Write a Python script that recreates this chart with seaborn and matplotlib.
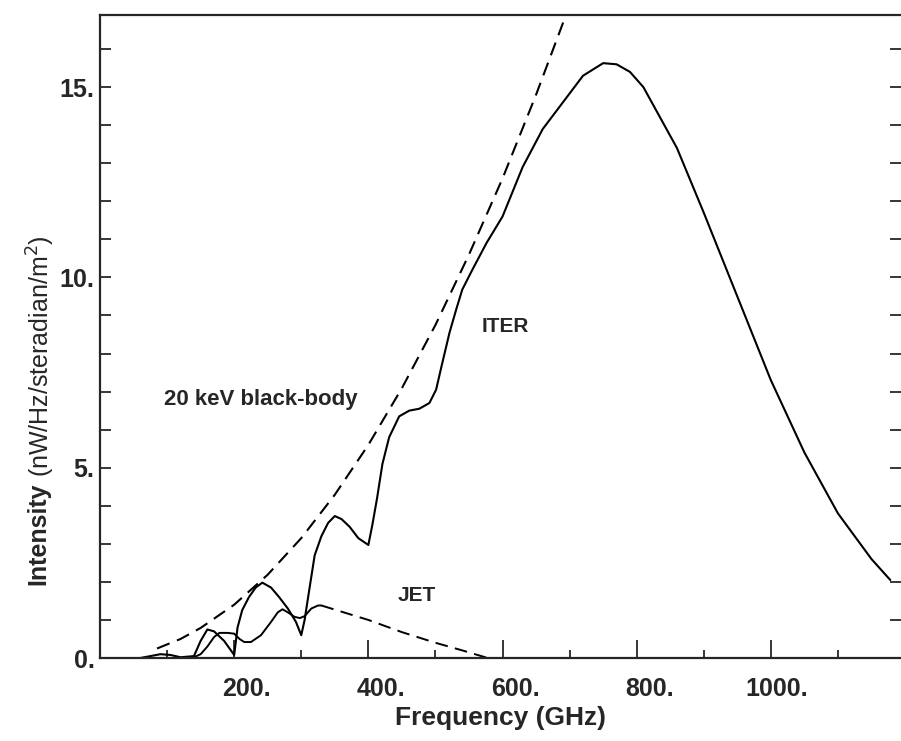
import matplotlib
matplotlib.use('Agg')
import matplotlib.pyplot as plt
from matplotlib.ticker import MultipleLocator, FixedLocator
from matplotlib.transforms import ScaledTranslation
import seaborn as sns
import pandas as pd

##### data (GHz, nW/Hz/steradian/m^2)

bb_freq = [85, 120, 150, 200, 250, 300, 350, 400, 450, 500, 550, 600, 650, 700, 710]
bb_int = [0.25, 0.5, 0.79, 1.4, 2.19, 3.15, 4.29, 5.6, 7.09, 8.75, 10.6, 12.6, 14.8, 17.15, 17.6]

iter_freq = [60, 75, 90, 105, 120, 140, 150, 160, 170, 185, 200, 205, 212, 222, 232, 242, 255, 267,
             280, 292, 300, 305, 312, 320, 330, 340, 350, 360, 372, 385, 400, 406, 413, 421, 431, 446,
             461, 476, 491, 501, 509, 521, 531, 540, 555, 576, 600, 630, 660, 690, 720, 750, 770, 790,
             810, 835, 860, 900, 950, 1000, 1050, 1100, 1150, 1178]
iter_int = [0.0, 0.05, 0.1, 0.08, 0.02, 0.05, 0.45, 0.75, 0.7, 0.45, 0.08, 0.8, 1.26, 1.6, 1.85, 1.98,
            1.85, 1.6, 1.3, 0.95, 0.6, 1.0, 1.8, 2.7, 3.2, 3.55, 3.73, 3.65, 3.45, 3.15, 2.97, 3.5, 4.2,
            5.1, 5.8, 6.35, 6.5, 6.55, 6.7, 7.05, 7.66, 8.55, 9.16, 9.68, 10.2, 10.9, 11.6, 12.9, 13.9,
            14.6, 15.3, 15.63, 15.6, 15.4, 15.0, 14.2, 13.4, 11.7, 9.5, 7.3, 5.4, 3.8, 2.6, 2.05]

jet_freq = [140, 150, 160, 170, 178, 190, 200, 208, 215, 225, 240, 255, 265, 272, 280, 290, 298, 305,
            315, 325, 330]
jet_int = [0.02, 0.1, 0.3, 0.55, 0.66, 0.66, 0.64, 0.5, 0.42, 0.42, 0.6, 0.95, 1.2, 1.28, 1.2, 1.08,
           1.05, 1.1, 1.3, 1.38, 1.38]

jet_tail_freq = [330, 400, 450, 500, 540, 578]
jet_tail_int = [1.38, 1.0, 0.68, 0.4, 0.2, 0.0]

x_ticks = [200, 400, 600, 800, 1000]
x_ticklabels = ['200.', '400.', '600.', '800.', '1000.']
y_ticks = [0, 5, 10, 15]
y_ticklabels = ['0.', '5.', '10.', '15.']

sns.set_style('ticks')
plt.rcParams['font.family'] = ['Liberation Sans', 'DejaVu Sans']

fig = plt.figure(figsize=(9.01, 7.41), dpi=100)
ax = fig.add_axes([0.111, 0.112, 0.889, 0.868])

bb = pd.DataFrame({'f': bb_freq, 'I': bb_int})
it = pd.DataFrame({'f': iter_freq, 'I': iter_int})
jt = pd.DataFrame({'f': jet_freq, 'I': jet_int})
jt2 = pd.DataFrame({'f': jet_tail_freq, 'I': jet_tail_int})

dash = (0, (6.5, 3.8))
sns.lineplot(data=bb, x='f', y='I', ax=ax, color='black', lw=1.5, sort=False, estimator=None,
             linestyle=dash)
sns.lineplot(data=it, x='f', y='I', ax=ax, color='black', lw=1.5, sort=False, estimator=None)
sns.lineplot(data=jt, x='f', y='I', ax=ax, color='black', lw=1.4, sort=False, estimator=None)
sns.lineplot(data=jt2, x='f', y='I', ax=ax, color='black', lw=1.4, sort=False, estimator=None,
             linestyle=dash)

ax.set_xlim(0, 1194)
ax.set_ylim(0, 16.9)

ax.xaxis.set_major_locator(FixedLocator(x_ticks))
ax.xaxis.set_minor_locator(MultipleLocator(100))
ax.set_xticklabels(x_ticklabels, fontsize=18, fontweight='bold')
ax.yaxis.set_major_locator(FixedLocator(y_ticks))
ax.yaxis.set_minor_locator(MultipleLocator(1))
ax.set_yticklabels(y_ticklabels, fontsize=18, fontweight='bold')

ax.tick_params(axis='x', which='major', direction='in', length=13, width=1.3, pad=14)
ax.tick_params(axis='x', which='minor', direction='in', length=6, width=1.3)
ax.tick_params(axis='y', which='both', direction='in', length=8, width=1.3, right=True, pad=4)

# labels sit right-justified, like a fixed-width number field
shift = ScaledTranslation(0.37, 0, fig.dpi_scale_trans)
for lab in ax.get_xticklabels():
    lab.set_horizontalalignment('right')
    lab.set_transform(lab.get_transform() + shift)

for s in ['left', 'bottom', 'top']:
    ax.spines[s].set_linewidth(1.6)
ax.spines['right'].set_visible(False)

ax.set_xlabel('Frequency (GHz)', fontsize=19, fontweight='bold', labelpad=3)
ax.set_ylabel('')
fig.text(0.043, 1 - 585 / 741, 'Intensity', rotation=90, fontsize=18, fontweight='bold',
         ha='center', va='bottom')
fig.text(0.045, 1 - 477 / 741, '(nW/Hz/steradian/m$^2$)', rotation=90, fontsize=18,
         ha='center', va='bottom')

ax.text(96, 6.8, '20 keV black-body', fontsize=16, fontweight='bold', va='center')
ax.text(569, 8.7, 'ITER', fontsize=15, fontweight='bold', va='center')
ax.text(443, 1.63, 'JET', fontsize=15, fontweight='bold', va='center')

plt.savefig('out.png', dpi=100)
